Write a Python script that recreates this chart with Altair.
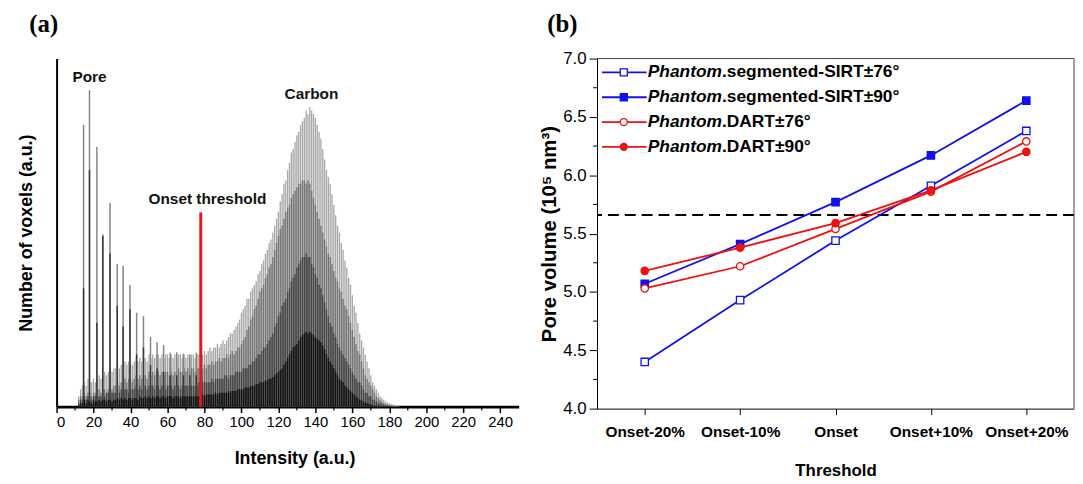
import altair as alt
import pandas as pd

# ---------------- Panel (a): histogram data ----------------
intensity = list(range(12, 186))

light_gray = [
    3, 5, 6, 7, 6, 8, 7, 7, 8, 7,
    8, 9, 8, 9, 10, 9, 10, 11, 10, 11,
    11, 12, 11, 12, 12, 13, 12, 13, 13, 12,
    13, 14, 13, 14, 13, 14, 14, 13, 15, 14,
    15, 14, 15, 15, 14, 15, 14, 15, 15, 14,
    15, 14, 15, 14, 15, 15, 14, 15, 14, 15,
    14, 15, 15, 14, 15, 15, 14, 15, 16, 15,
    16, 17, 16, 17, 17, 18, 17, 18, 19, 18,
    19, 20, 21, 21, 22, 23, 24, 25, 27, 28,
    29, 31, 31, 33, 34, 35, 36, 38, 39, 41,
    42, 44, 45, 47, 48, 50, 52, 54, 56, 59,
    61, 64, 65, 68, 70, 73, 74, 76, 78, 79,
    81, 82, 83, 85, 84, 86, 85, 84, 83, 81,
    79, 77, 74, 71, 68, 66, 64, 61, 58, 55,
    52, 50, 47, 45, 42, 40, 37, 35, 32, 29,
    27, 24, 21, 19, 17, 15, 13, 11, 9, 7,
    6, 5, 4, 3, 2.5, 2, 1.5, 1.2, 1, 0.8,
    0.6, 0.5, 0.4, 0.3,
]
mid_gray = [
    2, 3, 3, 4, 3, 4, 4, 3, 4, 4,
    4, 5, 4, 5, 5, 4, 5, 6, 5, 6,
    6, 7, 6, 7, 7, 8, 7, 8, 8, 7,
    8, 9, 8, 9, 8, 9, 9, 8, 10, 9,
    10, 9, 10, 10, 9, 10, 9, 10, 10, 9,
    10, 9, 10, 10, 11, 10, 10, 11, 10, 11,
    10, 11, 11, 10, 11, 11, 10, 11, 12, 11,
    12, 12, 13, 12, 13, 13, 14, 13, 14, 14,
    15, 14, 15, 16, 15, 16, 17, 17, 18, 19,
    20, 22, 23, 25, 26, 28, 29, 31, 33, 34,
    35, 37, 38, 40, 41, 43, 45, 47, 49, 51,
    52, 54, 56, 57, 58, 60, 61, 62, 63, 64,
    64, 65, 65, 64, 65, 64, 62, 60, 58, 56,
    54, 52, 50, 48, 46, 44, 43, 41, 39, 37,
    36, 34, 33, 31, 29, 28, 26, 24, 22, 20,
    18, 16, 15, 13, 11, 9, 8, 7, 6, 5,
    4, 3, 2.5, 2, 1.5, 1, 0.8, 0.6, 0.5, 0.4,
    0.3, 0.2, 0.2, 0.1,
]
dark_gray = [
    1, 2, 2, 3, 2, 3, 3, 2, 3, 3,
    3, 3, 3, 4, 3, 4, 4, 3, 4, 4,
    4, 5, 4, 5, 4, 5, 5, 4, 5, 5,
    5, 6, 5, 6, 5, 6, 6, 5, 6, 6,
    6, 5, 6, 6, 5, 6, 6, 5, 6, 6,
    6, 5, 6, 6, 6, 5, 6, 6, 6, 6,
    6, 6, 6, 6, 6, 7, 6, 7, 7, 7,
    7, 7, 8, 7, 8, 8, 8, 8, 8, 9,
    9, 8, 9, 9, 9, 10, 10, 10, 10, 11,
    11, 11, 12, 12, 13, 13, 14, 15, 15, 16,
    17, 17, 18, 19, 20, 21, 23, 24, 26, 27,
    29, 30, 31, 33, 34, 36, 37, 38, 40, 41,
    42, 43, 43, 44, 43, 43, 41, 40, 38, 37,
    35, 34, 32, 30, 28, 26, 24, 23, 21, 20,
    18, 17, 16, 15, 14, 13, 12, 11, 10, 9,
    8, 7, 7, 6, 5, 4, 4, 3, 3, 2,
    2, 1.5, 1.2, 1, 0.8, 0.6, 0.5, 0.4, 0.3, 0.2,
    0.2, 0.1, 0.1, 0.1,
]
black = [
    0.5, 1, 1, 2, 1, 2, 1.5, 1, 2, 1.5,
    1.5, 2, 1.5, 2, 2, 1.5, 2, 2, 1.5, 2,
    2, 2.5, 2, 2.5, 2, 2.5, 2, 2.5, 2.5, 2,
    2.5, 2.5, 2, 3, 2.5, 2.5, 3, 2.5, 3, 2.5,
    3, 2.5, 3, 3, 2.5, 3, 3, 2.5, 3, 3,
    3, 2.5, 3, 3, 3, 2.5, 3, 3, 3, 3,
    3, 3, 3, 3, 3, 3, 3, 3.5, 3, 3.5,
    3.5, 3.5, 3.5, 3.5, 4, 3.5, 4, 4, 4, 4,
    4, 4.5, 4, 4.5, 4.5, 4.5, 5, 5, 5, 5,
    5.5, 5.5, 5.5, 6, 6, 6, 6.5, 6.5, 7, 7,
    7, 7.5, 7.5, 8, 8, 8.5, 9, 9.5, 10, 10.5,
    11, 12, 13, 14, 15, 16, 17, 17.5, 18, 19,
    20, 20.5, 21, 21.5, 21, 21.5, 21, 20.5, 20, 19.5,
    19, 18.5, 17.5, 16.5, 15, 14, 13, 12, 11, 10,
    9, 8, 7.5, 7, 6, 5.5, 5, 4.5, 4, 3.5,
    3, 2.5, 2, 1.8, 1.5, 1.2, 1, 0.8, 0.6, 0.5,
    0.4, 0.3, 0.3, 0.2, 0.2, 0.1, 0.1, 0.1, 0.1, 0.1,
    0, 0, 0, 0,
]

# comb of pore spikes
spike_pos = [14.6, 17.8, 21.8, 25.0, 28.9, 32.8, 36.0, 39.7, 43.3, 47.0,
             50.8, 54.4, 57.9, 61.5, 65.0, 68.6, 72.1, 75.6]
spike_outer = [81, 91, 74.6, 49.5, 58.5, 41, 40.5, 35, 27, 26,
               20, 18.5, 17.7, 15.5, 15.6, 15.2, 15, 15.5]
spike_inner = [34, 68, 24, 49, 44, 29, 23, 28, 15, 17,
               12, 11, 10, 9, 9, 9, 9, 9]

onset_x = 78
onset_top = 55.8
minor_x = [10, 30, 50, 70, 90, 110, 130, 150, 170, 190, 210, 230]
major_x = list(range(0, 241, 20))

anno_text = ["Pore", "Carbon", "Onset threshold"]
anno_x = [17.8, 137.9, 81.6]
anno_y = [94.6, 89.7, 59.5]

# ---------------- Panel (b) data ----------------
cats = ["Onset-20%", "Onset-10%", "Onset", "Onset+10%", "Onset+20%"]
series = ["SIRT76", "SIRT90", "DART76", "DART90"]
suffixes = [".segmented-SIRT\u00b176\u00b0", ".segmented-SIRT\u00b190\u00b0",
            ".DART\u00b176\u00b0", ".DART\u00b190\u00b0"]
sirt76 = [4.40, 4.93, 5.44, 5.91, 6.38]
sirt90 = [5.07, 5.41, 5.77, 6.17, 6.64]
dart76 = [5.03, 5.22, 5.54, 5.86, 6.29]
dart90 = [5.18, 5.38, 5.59, 5.87, 6.20]
reference_volume = 5.66
y_major = [4.0, 4.5, 5.0, 5.5, 6.0, 6.5, 7.0]
y_minor = [4.25, 4.75, 5.25, 5.75, 6.25, 6.75]

BLUE = "#1111ee"
RED = "#ee1111"
FONT = "Liberation Sans"

# ---------------- Panel (a) chart ----------------
WA, HA = 466, 351
xs = alt.Scale(domain=[0, 250], nice=False, zero=False)
ys = alt.Scale(domain=[0, 100], nice=False, zero=True)
AX_A = alt.Axis(values=major_x, tickSize=6, tickWidth=1.5, domainWidth=3,
                labelFontSize=15, labelPadding=2, title="Intensity (a.u.)",
                titleFontSize=18, titleFontWeight="bold", titlePadding=20,
                titleX=240, grid=False)
AY_A = alt.Axis(labels=False, ticks=False, domainWidth=2,
                title="Number of voxels (a.u.)", titleFontSize=18,
                titleFontWeight="bold", titlePadding=21, grid=False)


def hist_layer(vals, color, xpos, half):
    df = pd.DataFrame({"x": xpos, "h": vals})
    df["lo"] = df["x"] - half
    df["hi"] = df["x"] + half
    df["zero"] = 0.0
    return alt.Chart(df).mark_rect(color=color, opacity=1).encode(
        x=alt.X("lo:Q", scale=xs, axis=AX_A),
        x2="hi:Q",
        y=alt.Y("h:Q", scale=ys, axis=AY_A),
        y2="zero:Q",
    )


l1 = hist_layer(light_gray, "#a8a8a8", intensity, 0.36)
l2 = hist_layer(mid_gray, "#747474", intensity, 0.36)
sp_o = hist_layer(spike_outer, "#858585", spike_pos, 0.4)
sp_i = hist_layer(spike_inner, "#383838", spike_pos, 0.4)
l3 = hist_layer(dark_gray, "#444444", intensity, 0.36)
l4 = hist_layer(black, "#101010", intensity, 0.36)

onset_df = pd.DataFrame({"x": [onset_x], "y0": [0], "y1": [onset_top]})
onset = alt.Chart(onset_df).mark_rule(color="#e3171d", strokeWidth=3).encode(
    x=alt.X("x:Q", scale=xs, axis=AX_A), y=alt.Y("y0:Q", scale=ys, axis=AY_A), y2="y1:Q")

minor_a = alt.Chart(pd.DataFrame({"x": minor_x})).mark_rule(color="black", strokeWidth=1.2).encode(
    x=alt.X("x:Q", scale=xs, axis=AX_A), y=alt.value(HA), y2=alt.value(HA + 4))

anno_df = pd.DataFrame({"t": anno_text, "x": anno_x, "y": anno_y})
anno = alt.Chart(anno_df).mark_text(font=FONT, fontSize=15.5, fontWeight="bold",
                                    color="#111", align="center", baseline="middle").encode(
    x=alt.X("x:Q", scale=xs, axis=AX_A), y=alt.Y("y:Q", scale=ys, axis=AY_A), text="t:N")

tag_a = alt.Chart(pd.DataFrame({"t": ["(a)"]})).mark_text(
    font="Liberation Serif", fontSize=25, fontWeight="bold", color="black",
    align="center", baseline="middle").encode(
    x=alt.value(-13), y=alt.value(-35), text="t:N")

panel_a = alt.layer(l1, l2, sp_o, sp_i, l3, l4, onset, minor_a, anno, tag_a).properties(
    width=WA, height=HA)

# ---------------- Panel (b) chart ----------------
WB, HB = 481, 353
rows = []
for s, vals in zip(series, [sirt76, sirt90, dart76, dart90]):
    for c, v in zip(cats, vals):
        rows.append({"series": s, "cat": c, "value": v})
dfb = pd.DataFrame(rows)

ysb = alt.Scale(domain=[4, 7], nice=False, zero=False)
AX_B = alt.Axis(labelAngle=0, labelFontSize=15.5, labelFontWeight="bold",
                tickSize=6, labelPadding=10, title="Threshold",
                titleFontSize=17, titleFontWeight="bold", titlePadding=23, grid=False)
AY_B = alt.Axis(values=y_major, format=".1f", tickSize=8, labelFontSize=17,
                labelPadding=3, title="Pore volume (10\u2075 nm\u00b3)",
                titleFontSize=20.5, titleFontWeight="bold", titlePadding=3, grid=False)
xenc = alt.X("cat:N", sort=cats, scale=alt.Scale(type="point", padding=0.5), axis=AX_B)
yenc = alt.Y("value:Q", scale=ysb, axis=AY_B)

stroke_scale = alt.Scale(domain=series, range=[BLUE, BLUE, RED, RED])
fill_scale = alt.Scale(domain=series, range=["white", BLUE, "white", RED])
shape_scale = alt.Scale(domain=series, range=["square", "square", "circle", "circle"])

lines = alt.Chart(dfb).mark_line(strokeWidth=1.8).encode(
    x=xenc, y=yenc,
    color=alt.Color("series:N", scale=stroke_scale, legend=None))

points = alt.Chart(dfb).mark_point(size=55, strokeWidth=1.3, opacity=1, fillOpacity=1).encode(
    x=xenc, y=yenc,
    shape=alt.Shape("series:N", scale=shape_scale, legend=None),
    fill=alt.Fill("series:N", scale=fill_scale, legend=None),
    stroke=alt.Stroke("series:N", scale=stroke_scale, legend=None))

dash = alt.Chart(pd.DataFrame({"value": [reference_volume]})).mark_rule(
    color="black", strokeWidth=2, strokeDash=[11, 6]).encode(y=yenc)

minor_b = alt.Chart(pd.DataFrame({"value": y_minor})).mark_rule(color="black", strokeWidth=1).encode(
    y=yenc, x=alt.value(-4), x2=alt.value(0))

frame_top = alt.Chart(pd.DataFrame({"k": [0]})).mark_rule(color="#444", strokeWidth=1).encode(
    x=alt.value(0), x2=alt.value(WB), y=alt.value(0))
frame_right = alt.Chart(pd.DataFrame({"k": [0]})).mark_rule(color="#444", strokeWidth=1).encode(
    x=alt.value(WB), y=alt.value(0), y2=alt.value(HB))

# manual legend (rows placed in value space)
row_offsets = [14, 39, 64, 89]
leg = pd.DataFrame({
    "series": series,
    "prefix": ["Phantom"] * 4,
    "suffix": suffixes,
    "value": [7 - off * 3.0 / HB for off in row_offsets],
})
leg_line = alt.Chart(leg).mark_rule(strokeWidth=1.8).encode(
    x=alt.value(5), x2=alt.value(50), y=yenc,
    stroke=alt.Stroke("series:N", scale=stroke_scale, legend=None))
leg_pt = alt.Chart(leg).mark_point(size=50, strokeWidth=1.3, opacity=1, fillOpacity=1).encode(
    x=alt.value(27), y=yenc,
    shape=alt.Shape("series:N", scale=shape_scale, legend=None),
    fill=alt.Fill("series:N", scale=fill_scale, legend=None),
    stroke=alt.Stroke("series:N", scale=stroke_scale, legend=None))
leg_t1 = alt.Chart(leg).mark_text(font=FONT, fontSize=17.5, fontWeight="bold", fontStyle="italic",
                                  align="right", baseline="middle", color="black").encode(
    x=alt.value(126), y=yenc, text="prefix:N")
leg_t2 = alt.Chart(leg).mark_text(font=FONT, fontSize=17.5, fontWeight="bold",
                                  align="left", baseline="middle", color="black").encode(
    x=alt.value(126), y=yenc, text="suffix:N")

tag_b = alt.Chart(pd.DataFrame({"t": ["(b)"]})).mark_text(
    font="Liberation Serif", fontSize=25, fontWeight="bold", color="black",
    align="center", baseline="middle").encode(
    x=alt.value(-35), y=alt.value(-35), text="t:N")

panel_b = alt.layer(dash, lines, points, minor_b, frame_top, frame_right,
                    leg_line, leg_pt, leg_t1, leg_t2, tag_b).properties(width=WB, height=HB)

chart = alt.hconcat(panel_a, panel_b, spacing=79, bounds="flush").properties(
    padding={"left": 10, "top": 2, "right": 0, "bottom": 0}
).configure_view(stroke=None).configure_axis(
    domainColor="black", tickColor="black", labelColor="black", titleColor="black",
    labelFont=FONT, titleFont=FONT, grid=False
)

chart.save("out.html", embed_options={"renderer": "svg", "actions": False})
